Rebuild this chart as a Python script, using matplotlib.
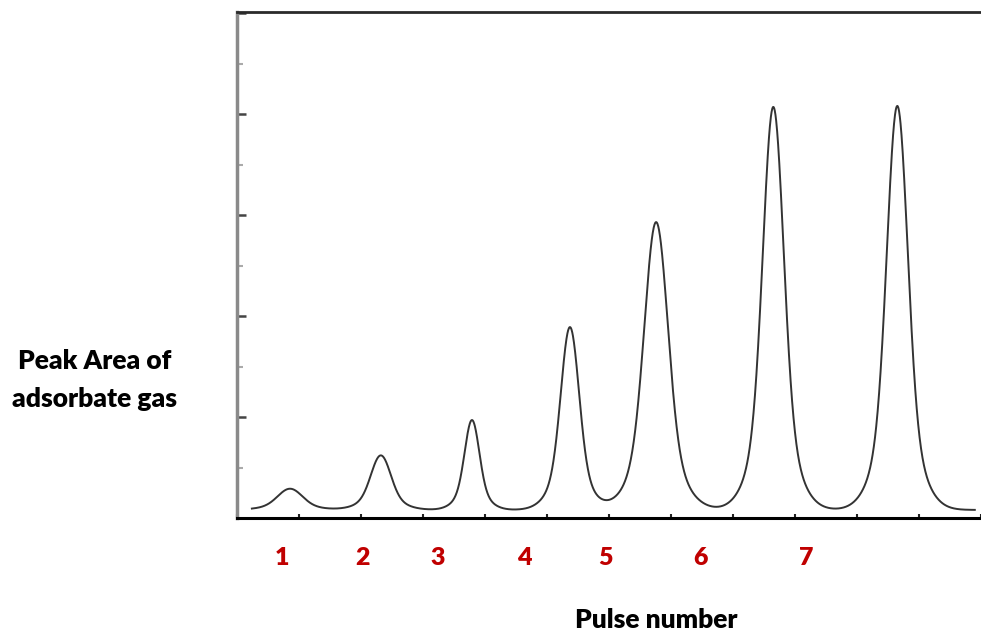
import numpy as np
import matplotlib.pyplot as plt
from matplotlib.ticker import MultipleLocator
from matplotlib.transforms import blended_transform_factory

plt.rcParams['font.family'] = ['Lato', 'DejaVu Sans']

# Peaks of the pulse chromatogram (time in arbitrary units, response in arbitrary units)
peak_centers = [0.855, 2.32, 3.79, 5.37, 6.76, 8.65, 10.65]
peak_heights = [0.21, 0.54, 0.89, 1.81, 2.85, 3.99, 4.0]
peak_widths = [0.19, 0.153, 0.113, 0.14, 0.18, 0.16, 0.16]
baseline = 0.08
t_start, t_end = 0.24, 11.9

# Pulse labels under the axis
pulse_labels = ['1', '2', '3', '4', '5', '6', '7']
pulse_label_pos = [0.73, 2.03, 3.24, 4.63, 5.95, 7.47, 9.18]

t = np.linspace(t_start, t_end, 3000)
signal = np.full_like(t, baseline)
for c, h, s in zip(peak_centers, peak_heights, peak_widths):
    # narrow gaussian core with a broader foot
    signal += h * (0.78 * np.exp(-(t - c) ** 2 / (2 * s ** 2))
                   + 0.22 * np.exp(-(t - c) ** 2 / (8 * s ** 2)))

W, H = 981, 633
fig = plt.figure(figsize=(W / 100, H / 100), dpi=100)
ax = fig.add_axes([237 / W, (H - 518) / H, (W - 237) / W, (518 - 12) / H])

ax.plot(t, signal, color='#333333', lw=1.4)

ax.set_xlim(0, 12)
ax.set_ylim(0, 5.01)

ax.spines['right'].set_visible(False)
ax.spines['top'].set_color('#2a2a2a')
ax.spines['top'].set_linewidth(2)
ax.spines['left'].set_color('#8a8a8a')
ax.spines['left'].set_linewidth(2.5)
ax.spines['bottom'].set_color('black')
ax.spines['bottom'].set_linewidth(2.2)

ax.yaxis.set_major_locator(MultipleLocator(1))
ax.yaxis.set_minor_locator(MultipleLocator(0.5))
ax.xaxis.set_major_locator(MultipleLocator(1))
ax.tick_params(axis='y', which='major', direction='in', length=6.5, width=1.8,
               color='#444444', labelleft=False)
ax.tick_params(axis='y', which='minor', direction='in', length=4, width=1.5,
               color='#aaaaaa')
ax.tick_params(axis='x', which='major', direction='in', length=3, width=1.5,
               color='#222222', labelbottom=False)

trans = blended_transform_factory(ax.transData, ax.transAxes)
for lab, x in zip(pulse_labels, pulse_label_pos):
    ax.text(x, (518 - 565) / 506, lab, transform=trans, ha='center', va='baseline',
            color='#c00000', fontsize=18, fontweight='heavy')

fig.text(95 / W, 1 - 369 / H, 'Peak Area of', ha='center', va='baseline',
         fontsize=19, fontweight='heavy')
fig.text(95 / W, 1 - 407 / H, 'adsorbate gas', ha='center', va='baseline',
         fontsize=19, fontweight='heavy')
fig.text(656 / W, 1 - 628 / H, 'Pulse number', ha='center', va='baseline',
         fontsize=19, fontweight='heavy')

fig.savefig('out.png', dpi=100)
